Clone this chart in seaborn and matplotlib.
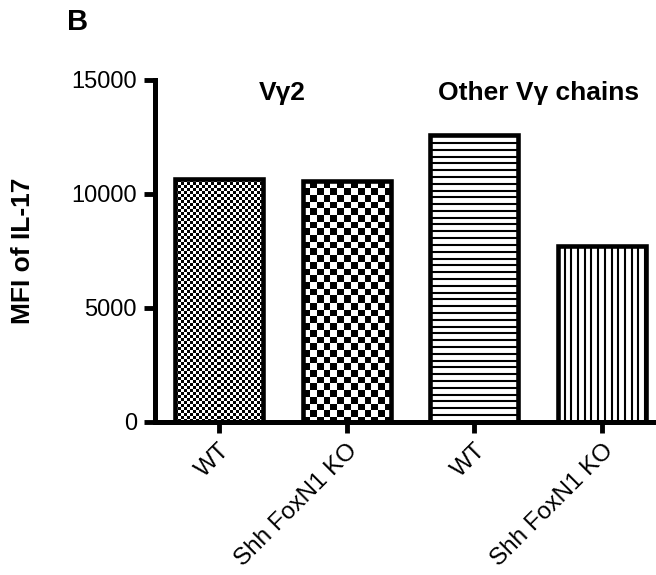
import numpy as np
import pandas as pd
import matplotlib
matplotlib.use("Agg")
import matplotlib.pyplot as plt
import seaborn as sns

# Data
groups = ["Vγ2", "Vγ2", "Other Vγ chains", "Other Vγ chains"]
genotypes = ["WT", "Shh FoxN1 KO", "WT", "Shh FoxN1 KO"]
mfi_il17 = [10650, 10550, 12600, 7700]
y_ticks = [0, 5000, 10000, 15000]

df = pd.DataFrame({
    "key": [f"{g} {t}" for g, t in zip(groups, genotypes)],
    "group": groups,
    "genotype": genotypes,
    "mfi": mfi_il17,
})

sns.set_style("ticks")
plt.rcParams["font.family"] = ["Liberation Sans", "DejaVu Sans"]
plt.rcParams["text.color"] = "black"
plt.rcParams["axes.labelcolor"] = "black"

fig = plt.figure(figsize=(6.56, 5.75), dpi=100)
ax = fig.add_axes([155 / 656, 1 - 421.7 / 575, 500 / 656, 341.7 / 575])

sns.barplot(data=df, x="key", y="mfi", order=list(df["key"]), ax=ax,
            width=0.69, color="white", edgecolor="black", linewidth=3.3,
            errorbar=None, zorder=3)

ax.set_xlim(-0.5, 3.415)
ax.set_ylim(0, 15000)
ax.set_yticks(y_ticks)
ax.set_yticklabels([str(v) for v in y_ticks])
ax.set_xticks(range(len(genotypes)))
ax.set_xticklabels(genotypes, rotation=45, ha="right", va="top",
                   rotation_mode="anchor")
ax.tick_params(axis="both", labelsize=17, width=3.5, length=8, pad=5,
               color="black", labelcolor="black")
ax.tick_params(axis="x", labelsize=17.5)
ax.set_xlabel("")
ax.set_ylabel("MFI of IL-17", fontsize=19, fontweight="bold", va="center")
ax.yaxis.set_label_coords(-0.264, 0.5)

for side in ("top", "right"):
    ax.spines[side].set_visible(False)
for side in ("left", "bottom"):
    ax.spines[side].set_linewidth(3.6)
    ax.spines[side].set_color("black")
    ax.spines[side].set_zorder(4)


# Checkerboard fills rendered at screen-pixel resolution
def checker(h, w, cell):
    i = np.arange(h)[:, None]
    j = np.arange(w)[None, :]
    return ((np.floor(i / cell) + np.floor(j / cell)) % 2).astype(float)


bars = ax.patches
for bar in bars:
    bar.set_facecolor("none")

(ox, oy), (ux, uy) = ax.transData.transform([(0, 0), (1, 1000)])
px_per_x = ux - ox          # pixels per category step
px_per_y = (uy - oy) / 1000  # pixels per MFI unit

for bar, cell in zip(bars[:2], (3.0, 6.7)):
    x0, y0 = bar.get_x(), bar.get_y()
    x1, y1 = x0 + bar.get_width(), y0 + bar.get_height()
    w = int(round((x1 - x0) * px_per_x))
    h = int(round((y1 - y0) * px_per_y))
    im = ax.imshow(checker(h, w, cell), extent=(x0, x1, y0, y1),
                   origin="upper", cmap="gray_r", vmin=0, vmax=1,
                   interpolation="nearest", aspect="auto", zorder=2)
    im.set_clip_path(bar)

# Horizontal stripes
b = bars[2]
step = 6.8 / px_per_y
ys = np.arange(b.get_y(), b.get_y() + b.get_height(), step)
hl = ax.hlines(ys, b.get_x(), b.get_x() + b.get_width(), colors="black",
               linewidth=1.5, zorder=2)
hl.set_clip_path(b)

# Vertical stripes
b = bars[3]
step = 6.7 / px_per_x
xs = np.arange(b.get_x(), b.get_x() + b.get_width(), step)
vl = ax.vlines(xs, b.get_y(), b.get_y() + b.get_height(), colors="black",
               linewidth=1.5, zorder=2)
vl.set_clip_path(b)

ax.set_xlim(-0.5, 3.415)
ax.set_ylim(0, 15000)

# Group headers
ax.text(0.5, 14430, "Vγ2", ha="center", va="center",
        fontsize=19, fontweight="bold")
ax.text(2.5, 14430, "Other Vγ chains", ha="center", va="center",
        fontsize=19, fontweight="bold")

# Panel letter
fig.text(78 / 656, 1 - 21.5 / 575, "B", ha="center", va="center",
         fontsize=21, fontweight="bold")

fig.savefig("out.png", dpi=100)
